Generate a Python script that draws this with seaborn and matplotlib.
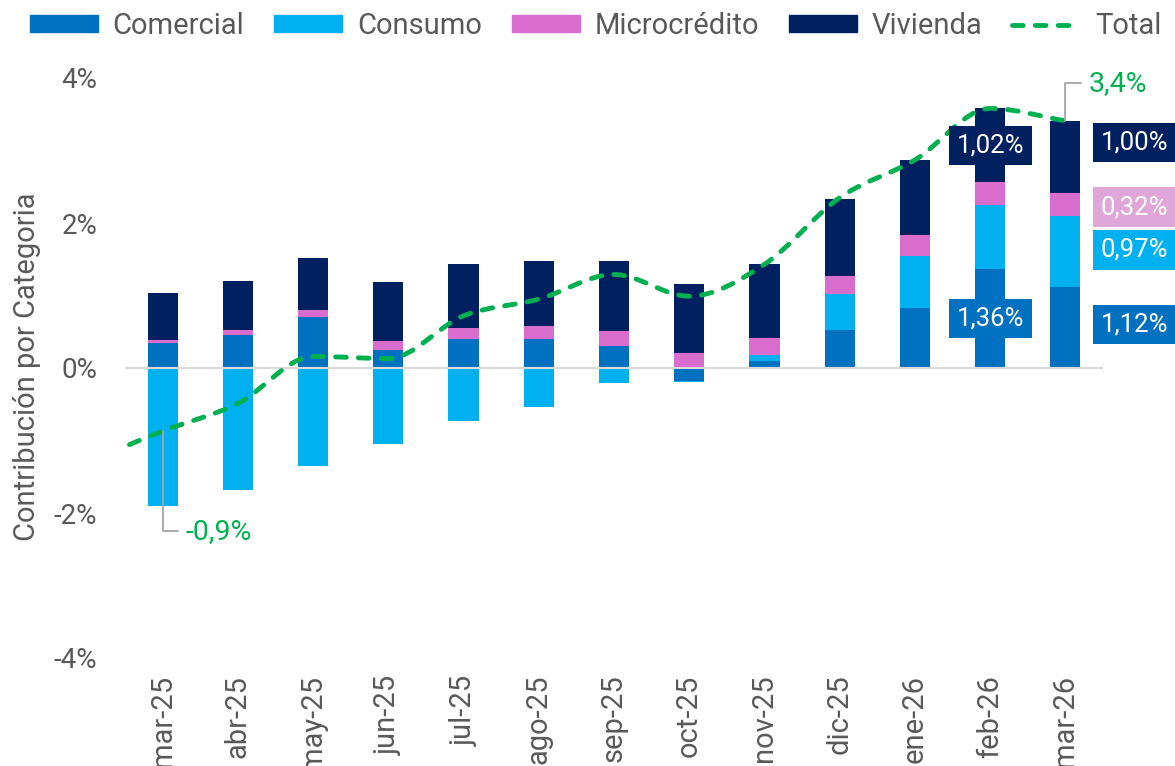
import numpy as np
import matplotlib
matplotlib.use('Agg')
import matplotlib.pyplot as plt
from matplotlib.path import Path
from matplotlib.patches import PathPatch, Patch
from matplotlib.lines import Line2D
import seaborn as sns

# %% datos (contribución al crecimiento, en puntos porcentuales)
meses = ['mar-25', 'abr-25', 'may-25', 'jun-25', 'jul-25', 'ago-25', 'sep-25',
         'oct-25', 'nov-25', 'dic-25', 'ene-26', 'feb-26', 'mar-26']
comercial = [0.35, 0.46, 0.71, 0.25, 0.40, 0.40, 0.31, -0.18, 0.09, 0.53, 0.83, 1.36, 1.12]
consumo = [-1.90, -1.68, -1.35, -1.05, -0.73, -0.54, -0.21, -0.01, 0.09, 0.49, 0.71, 0.89, 0.97]
microcredito = [0.04, 0.06, 0.09, 0.12, 0.15, 0.18, 0.20, 0.21, 0.24, 0.25, 0.29, 0.31, 0.32]
vivienda = [0.64, 0.68, 0.72, 0.82, 0.89, 0.90, 0.96, 0.95, 1.01, 1.06, 1.04, 1.02, 1.00]

# la serie total arranca un mes antes (feb-25), fuera del eje visible
meses_total = ['feb-25'] + meses
total = [-1.30, -0.87, -0.49, 0.16, 0.13, 0.72, 0.95, 1.29, 0.99, 1.43, 2.35, 2.87, 3.58, 3.41]

# %% estilo
sns.set_style('white')
plt.rcParams['font.family'] = ['Roboto', 'DejaVu Sans']
plt.rcParams['axes.unicode_minus'] = False

gris = '#595959'
verde = '#00B050'
colores = {'Comercial': '#0070C0', 'Consumo': '#00B0F0',
           'Microcrédito': '#D86DCD', 'Vivienda': '#002060'}
series = [('Comercial', comercial), ('Consumo', consumo),
          ('Microcrédito', microcredito), ('Vivienda', vivienda)]

fig = plt.figure(figsize=(11.75, 7.66), dpi=100)
ax = fig.add_axes([125 / 1175, 1 - 658 / 766, 978 / 1175, 580 / 766])

# %% barras apiladas (positivos hacia arriba, negativos hacia abajo)
base_pos = np.zeros(len(meses))
base_neg = np.zeros(len(meses))
for nombre, vals in series:
    v = np.array(vals)
    pos = np.where(v > 0, v, 0.0)
    neg = np.where(v < 0, v, 0.0)
    sns.barplot(x=meses, y=pos, bottom=base_pos, color=colores[nombre], width=0.4,
                saturation=1, errorbar=None, linewidth=0, ax=ax)
    sns.barplot(x=meses, y=neg, bottom=base_neg, color=colores[nombre], width=0.4,
                saturation=1, errorbar=None, linewidth=0, ax=ax)
    base_pos += pos
    base_neg += neg

ax.axhline(0, color='#D9D9D9', lw=1.5, zorder=3)


# %% linea total suavizada (bezier, tangente plana en maximos/minimos)
def curva_suave(xs, ys):
    xs = np.asarray(xs, float)
    ys = np.asarray(ys, float)
    n = len(ys)
    m = np.zeros(n)
    for i in range(n):
        a = ys[max(i - 1, 0)]
        b = ys[min(i + 1, n - 1)]
        if 0 < i < n - 1 and (ys[i] - a) * (b - ys[i]) < 0:
            m[i] = 0.0
        else:
            m[i] = (b - a) / (min(i + 1, n - 1) - max(i - 1, 0))
    verts = [(xs[0], ys[0])]
    codes = [Path.MOVETO]
    for i in range(n - 1):
        h = xs[i + 1] - xs[i]
        verts += [(xs[i] + h / 3, ys[i] + m[i] * h / 3),
                  (xs[i + 1] - h / 3, ys[i + 1] - m[i + 1] * h / 3),
                  (xs[i + 1], ys[i + 1])]
        codes += [Path.CURVE4] * 3
    return Path(verts, codes)


x_total = np.arange(len(meses_total)) - 1
guion = (0, (2.2, 2.5))
linea = PathPatch(curva_suave(x_total, total), fill=False, edgecolor=verde, lw=3.5,
                  linestyle=guion, capstyle='round', zorder=4)
ax.add_patch(linea)

# etiquetas del total (primer y ultimo mes visibles)
fmt1 = lambda v: f"{v:.1f}".replace('.', ',') + '%'
ax.annotate(fmt1(total[1]), xy=(0, total[1]), xytext=(0.3, -2.25),
            ha='left', va='center', color=verde, fontsize=20.5, zorder=6,
            arrowprops=dict(arrowstyle='-', color='#A6A6A6', lw=1.3, shrinkA=3, shrinkB=0,
                            connectionstyle='angle,angleA=180,angleB=90,rad=0'))
ax.annotate(fmt1(total[-1]), xy=(12, total[-1]), xytext=(12.31, 3.93),
            ha='left', va='center', color=verde, fontsize=20.5, zorder=6,
            arrowprops=dict(arrowstyle='-', color='#A6A6A6', lw=1.3, shrinkA=3, shrinkB=0,
                            connectionstyle='angle,angleA=180,angleB=90,rad=0'))

# %% etiquetas de datos
fmt2 = lambda v: f"{v:.2f}".replace('.', ',') + '%'


def etiqueta(x, y, txt, fondo):
    ax.text(x, y, txt, ha='center', va='center', color='white', fontsize=18.5, zorder=7,
            bbox=dict(boxstyle='square,pad=0.3', fc=fondo, ec='none'))


# feb-26: centradas en el segmento
i = 11
etiqueta(i, vivienda[i] / 2 + comercial[i] + consumo[i] + microcredito[i], fmt2(vivienda[i]), colores['Vivienda'])
etiqueta(i, comercial[i] / 2, fmt2(comercial[i]), colores['Comercial'])

# mar-26: a la derecha de la barra
pos_y_mar26 = [0.60, 1.63, 2.22, 3.11]
fondos_mar26 = ['#0070C0', '#00B0F0', '#E0A6D9', '#002060']
for (nombre, vals), yy, fondo in zip(series, pos_y_mar26, fondos_mar26):
    etiqueta(12.92, yy, fmt2(vals[-1]), fondo)

# %% ejes
ax.set_xlim(-0.5, 12.5)
ax.set_ylim(-4, 4)
ax.set_yticks([-4, -2, 0, 2, 4])
ax.yaxis.set_major_formatter('{x:.0f}%')
ax.set_xlabel('')
ax.tick_params(axis='y', length=0, pad=20, labelsize=20, labelcolor=gris)
ax.tick_params(axis='x', length=0, pad=12, labelsize=21, labelcolor=gris, rotation=90)
sns.despine(ax=ax, left=True, bottom=True)

fig.text(27 / 1175, 1 - 367 / 766, 'Contribución por Categoria', rotation=90,
         ha='center', va='center', fontsize=21, color=gris)

# leyenda
handles = [Patch(color=colores[n]) for n, _ in series]
handles.append(Line2D([], [], color=verde, lw=3.5, linestyle=guion,
                      dash_capstyle='round'))
etiquetas = [n for n, _ in series] + ['Total']
fig.legend(handles, etiquetas, loc='center', bbox_to_anchor=(0.507, 1 - 26 / 766),
           ncol=5, frameon=False, fontsize=21, labelcolor=gris, handlelength=2.33,
           handleheight=0.52, handletextpad=0.5, columnspacing=1.03)

fig.savefig('out.png', dpi=100)
